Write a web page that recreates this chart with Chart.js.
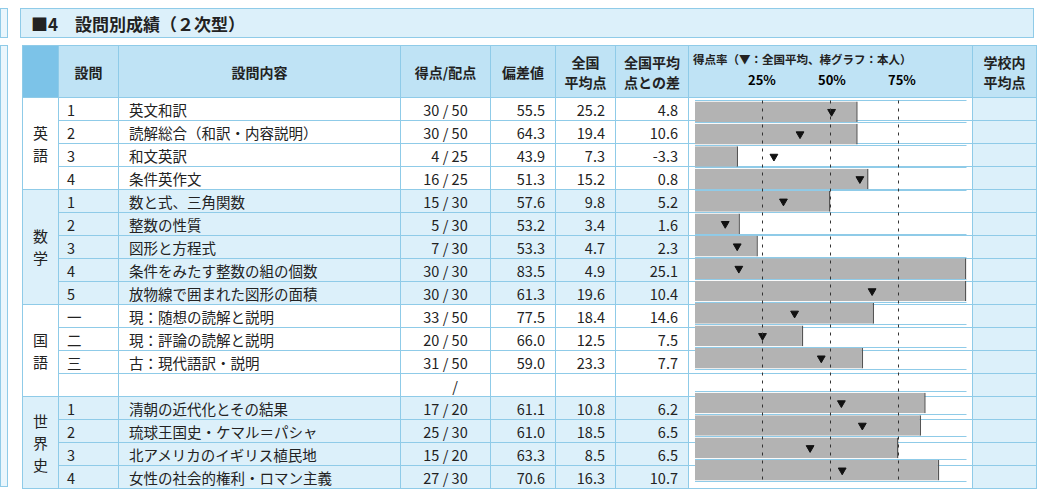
<!DOCTYPE html>
<html><head><meta charset="utf-8">
<script src="https://cdn.jsdelivr.net/npm/chart.js@4/dist/chart.umd.min.js"></script>
<style>
body{margin:0;width:1056px;height:490px;background:#fff;font-family:"Noto Sans CJK JP","Noto Sans",sans-serif;overflow:hidden;position:relative}
#title{position:absolute;left:20px;top:8px;width:1014px;height:30px;background:#dcf0fa;border:1px solid #8fcbe8;font-size:17px;font-weight:bold;line-height:30px;padding-left:10px;box-sizing:border-box;color:#222}
.strip{position:absolute;left:0;width:6px;border:1px solid #8fcbe8;background:#eaf6fc}
table{position:absolute;left:22px;top:45px;border-collapse:collapse;table-layout:fixed;font-size:14.5px;color:#222}
td,th{border:1px solid #8fcbe8;padding:0;height:22px;white-space:nowrap;overflow:hidden}
th{background:#bfe3f5;font-size:14px;font-weight:bold;height:48px;line-height:20px}
.b{background:#dcf0fa}
.g{text-align:center;line-height:22px;font-size:15px}
.n{padding-left:8px}.c{padding-left:10px}.s{text-align:center}.r{text-align:right;padding-right:10px}
.sc{background:#dcf0fa}
#cv{position:absolute;left:689px;top:95px;width:283px;height:392px}
.pl{position:absolute;top:70px;font-size:13px;font-weight:bold}
</style></head><body>
<div class="strip" style="top:8px;height:28px"></div>
<div class="strip" style="top:45px;height:440px"></div>
<div id="title">■4　設問別成績（２次型）</div>
<table id="t">
<colgroup><col style="width:36px"><col style="width:60px"><col style="width:282px"><col style="width:90px"><col style="width:65px"><col style="width:60px"><col style="width:73px"><col style="width:284px"><col style="width:64px"></colgroup>
<thead><tr><th style="background:#7cc3e8"></th><th>設問</th><th>設問内容</th><th>得点/配点</th><th>偏差値</th><th>全国<br>平均点</th><th>全国平均<br>点との差</th><th style="vertical-align:top;font-size:11.5px;text-align:left;padding-left:4px;padding-top:3px">得点率（▼：全国平均、棒グラフ：本人）</th><th>学校内<br>平均点</th></tr></thead>
<tbody id="tb"></tbody></table>
<div class="pl" style="left:748px">25%</div><div class="pl" style="left:818px">50%</div><div class="pl" style="left:888px">75%</div>
<canvas id="cv" width="283" height="392"></canvas>
<script>
const subjects=["英語","数学","国語","世界史"];
const subjectRows=[4,5,4,4];
const subjectBlue=[false,true,false,true];
const qNo=["1","2","3","4","1","2","3","4","5","一","二","三","","1","2","3","4"];
const contents=["英文和訳","読解総合（和訳・内容説明）","和文英訳","条件英作文","数と式、三角関数","整数の性質","図形と方程式","条件をみたす整数の組の個数","放物線で囲まれた図形の面積","現：随想の読解と説明","現：評論の読解と説明","古：現代語訳・説明","","清朝の近代化とその結果","琉球王国史・ケマル＝パシャ","北アメリカのイギリス植民地","女性の社会的権利・ロマン主義"];
const scores=["30","30","4","16","15","5","7","30","30","33","20","31","","17","25","15","27"];
const maxScores=["50","50","25","25","30","30","30","30","30","50","50","50","","20","30","20","30"];
const deviation=["55.5","64.3","43.9","51.3","57.6","53.2","53.3","83.5","61.3","77.5","66.0","59.0","","61.1","61.0","63.3","70.6"];
const natAvg=["25.2","19.4","7.3","15.2","9.8","3.4","4.7","4.9","19.6","18.4","12.5","23.3","","10.8","18.5","8.5","16.3"];
const diff=["4.8","10.6","-3.3","0.8","5.2","1.6","2.3","25.1","10.4","14.6","7.5","7.7","","6.2","6.5","6.5","10.7"];
const rate=[60,60,16,64,50,16.7,23.3,100,100,66,40,62,null,85,83.3,75,90];
const natRate=[50.4,38.8,29.2,60.8,32.7,11.3,15.7,16.3,65.3,36.8,25,46.6,null,54,61.7,42.5,54.3];

let html="",i=0;
subjects.forEach((s,k)=>{for(let j=0;j<subjectRows[k];j++,i++){
 const cls=subjectBlue[k]?' class="b"':'';
 html+=`<tr${cls}>`;
 if(j===0)html+=`<td rowspan="${subjectRows[k]}" class="g">${s.split("").join("<br>")}</td>`;
 html+=`<td class="n">${qNo[i]}</td><td class="c">${contents[i]}</td><td class="s">${scores[i]?scores[i].padStart(2,"\u2007"):"\u2007\u2007"} / ${maxScores[i]}</td><td class="r">${deviation[i]}</td><td class="r">${natAvg[i]}</td><td class="r">${diff[i]}</td><td style="background:#fff"></td><td class="sc"></td></tr>`;
}});
document.getElementById("tb").innerHTML=html;

const labels=qNo.map((q,k)=>k);
new Chart(document.getElementById("cv"),{
 data:{labels,datasets:[
  {type:"line",data:natRate,showLine:false,pointStyle:"triangle",rotation:180,radius:4.5,backgroundColor:"#111",borderColor:"#111",indexAxis:"y",order:0},
  {type:"bar",data:rate,backgroundColor:"#b3b3b3",borderColor:"#555",borderWidth:{right:1.5,top:0,bottom:0,left:0},barPercentage:1,categoryPercentage:0.92,indexAxis:"y",order:1}
 ]},
 options:{indexAxis:"y",responsive:false,animation:false,
  layout:{padding:0},
  plugins:{legend:{display:false},tooltip:{enabled:false}},
  scales:{
   x:{min:0,max:100,display:true,ticks:{display:false,stepSize:25},border:{display:false,dash:[3,5]},
      grid:{drawTicks:false,z:1,color:c=>(c.tick&&c.tick.value>0&&c.tick.value<100)?"#333":"rgba(0,0,0,0)",lineWidth:1}},
   y:{display:true,ticks:{display:false},border:{display:false},grid:{offset:true,drawTicks:false,color:"#8fcbe8"}}
  }}
});
</script>
</body></html>
